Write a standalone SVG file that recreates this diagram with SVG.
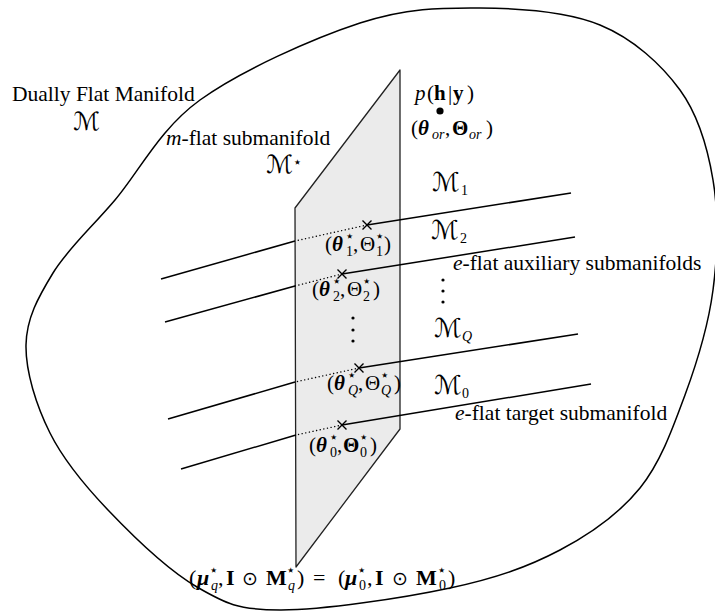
<svg xmlns="http://www.w3.org/2000/svg" width="715" height="611" viewBox="0 0 715 611">
<style>
.tx{font-family:"Liberation Serif",serif;font-size:21.5px;fill:#000}
.m{font-family:"Liberation Serif","DejaVu Serif",serif;font-size:21px;fill:#000}
.big{font-size:22px}
.cal{font-family:"DejaVu Serif","DejaVu Sans",serif;font-size:26px;fill:#000}
.cs{font-size:25px}
.bi{font-weight:bold;font-style:italic}
.b{font-weight:bold}
.it{font-style:italic}
.sub{font-family:"Liberation Serif",serif;font-size:14px}
.st{font-family:"DejaVu Sans",sans-serif;font-size:15px}
.op{font-family:"DejaVu Sans",sans-serif;font-size:19px}
.curve{fill:none;stroke:#000;stroke-width:1.5}
.sol{fill:none;stroke:#000;stroke-width:1.5}
.dot{fill:none;stroke:#000;stroke-width:1.4;stroke-dasharray:0.1 3.6;stroke-linecap:round}
.cross{fill:none;stroke:#000;stroke-width:1.4}
</style>
<g id="manifold">
<path class="curve" d="M360,23 C406.7,7.7 440,7.7 480,8 C520,8.3 566.7,11.3 600,25 C633.3,38.7 661.2,64.2 680,90 C698.8,115.8 707.5,146.7 713,180 C718.5,213.3 717.7,254.2 713,290 C708.3,325.8 697.2,362 685,395 C672.8,428 660.8,462.2 640,488 C619.2,513.8 591.7,533.3 560,550 C528.3,566.7 496.7,578 450,588 C403.3,598 322.2,610.2 280,610 C237.8,609.8 225.7,603.7 197,587 C168.3,570.3 132.5,535.7 108,510 C83.5,484.3 63.7,460.5 50,433 C36.3,405.5 25.5,371.7 26,345 C26.5,318.3 38.2,297.2 53,273 C67.8,248.8 90.5,228.8 115,200 C139.5,171.2 159.2,129.5 200,100 C240.8,70.5 313.3,38.3 360,23 Z"/>
<text class="tx" x="12" y="101">Dually Flat Manifold</text>
<text class="cal cs" x="73" y="130">ℳ</text>
</g>
<g id="m-flat-submanifold">
<polygon points="400,70 400,429 296,567 295,208" fill="#ebebeb" stroke="#222" stroke-width="1.3" stroke-linejoin="round"/>
<text class="tx" x="166" y="145"><tspan class="it">m</tspan>-flat submanifold</text>
<text class="cal cs" x="266" y="173">ℳ<tspan class="st" dy="-6">⋆</tspan></text>
<g id="plane-dots" fill="#000">
<circle cx="353" cy="318" r="1.6"/><circle cx="353" cy="330" r="1.6"/><circle cx="353" cy="341" r="1.6"/>
</g>
</g>
<g id="submanifolds">
<path class="sol" d="M571,193 L367,225"/><path class="dot" d="M367,225 L295,241"/><path class="sol" d="M295,241 L161,279"/>
<path class="sol" d="M575,237 L342,274"/><path class="dot" d="M342,274 L295,286"/><path class="sol" d="M295,286 L165,322"/>
<path class="sol" d="M578,334 L359,368"/><path class="dot" d="M359,368 L295,382"/><path class="sol" d="M295,382 L168,419"/>
<path class="sol" d="M591,384 L342,425"/><path class="dot" d="M342,425 L296,435"/><path class="sol" d="M296,435 L181,469"/>
<path class="cross" d="M362.5,220.5 L371.5,229.5 M371.5,220.5 L362.5,229.5 M337.5,269.5 L346.5,278.5 M346.5,269.5 L337.5,278.5 M354.5,363.5 L363.5,372.5 M363.5,363.5 L354.5,372.5 M337.5,420.5 L346.5,429.5 M346.5,420.5 L337.5,429.5"/>
</g>
<g id="posterior">
<circle cx="440" cy="111" r="3.6" fill="#000"/>
<text class="m"><tspan class="it" x="415" y="100">p</tspan><tspan x="427" y="100">(</tspan><tspan class="b" x="434" y="100">h</tspan><tspan x="448" y="100">|</tspan><tspan class="b" x="453" y="100">y</tspan><tspan x="467" y="100">)</tspan></text>
<text class="m"><tspan x="411" y="135">(</tspan><tspan class="bi" x="418" y="135">θ</tspan><tspan class="sub it" x="432" y="139">or</tspan><tspan x="445" y="135">,</tspan><tspan class="b" x="452" y="135">Θ</tspan><tspan class="sub it" x="469" y="139">or</tspan><tspan x="486" y="135">)</tspan></text>
</g>
<g id="labels-M">
<text class="cal" x="432" y="191">ℳ</text><text class="sub" x="461" y="195">1</text>
<text class="cal" x="431" y="239">ℳ</text><text class="sub" x="460" y="243">2</text>
<text class="tx" x="453" y="270"><tspan class="it">e</tspan>-flat auxiliary submanifolds</text>
<g fill="#000"><circle cx="443" cy="280" r="1.6"/><circle cx="443" cy="291" r="1.6"/><circle cx="443" cy="302" r="1.6"/></g>
<text class="cal" x="434" y="337">ℳ</text><text class="sub it" x="462" y="341">Q</text>
<text class="cal" x="434" y="394">ℳ</text><text class="sub" x="462" y="398">0</text>
<text class="tx" x="455" y="420"><tspan class="it">e</tspan>-flat target submanifold</text>
</g>
<g id="points">
<text class="m"><tspan x="325" y="251">(</tspan><tspan class="bi" x="332" y="251">θ</tspan><tspan x="353" y="251">,</tspan><tspan x="360" y="251">Θ</tspan><tspan x="384" y="251">)</tspan></text>
<text class="st" x="345" y="241">⋆</text><text class="sub" x="346" y="256">1</text><text class="st" x="375" y="241">⋆</text><text class="sub" x="376" y="256">1</text>
<text class="m"><tspan x="312" y="296">(</tspan><tspan class="bi" x="319" y="296">θ</tspan><tspan x="340" y="296">,</tspan><tspan x="347" y="296">Θ</tspan><tspan x="373" y="296">)</tspan></text>
<text class="st" x="332" y="286">⋆</text><text class="sub" x="333" y="301">2</text><text class="st" x="362" y="286">⋆</text><text class="sub" x="363" y="301">2</text>
<text class="m"><tspan x="327" y="390">(</tspan><tspan class="bi" x="334" y="390">θ</tspan><tspan x="358" y="390">,</tspan><tspan x="365" y="390">Θ</tspan><tspan x="394" y="390">)</tspan></text>
<text class="st" x="347" y="380">⋆</text><text class="sub it" x="348" y="395">Q</text><text class="st" x="380" y="380">⋆</text><text class="sub it" x="381" y="395">Q</text>
<text class="m"><tspan x="309" y="452">(</tspan><tspan class="bi" x="316" y="452">θ</tspan><tspan x="337" y="452">,</tspan><tspan class="b" x="343" y="452">Θ</tspan><tspan x="370" y="452">)</tspan></text>
<text class="st" x="329" y="442">⋆</text><text class="sub" x="330" y="457">0</text><text class="st" x="359" y="442">⋆</text><text class="sub" x="360" y="457">0</text>
</g>
<g id="equality">
<text class="m big"><tspan x="189" y="585">(</tspan><tspan class="bi" x="197" y="585">μ</tspan><tspan x="218" y="585">,</tspan><tspan class="b" x="226" y="585">I</tspan><tspan class="op" x="242" y="585">⊙</tspan><tspan class="b" x="266" y="585">M</tspan><tspan x="297" y="585">)</tspan><tspan x="313" y="585">=</tspan><tspan x="338" y="585">(</tspan><tspan class="bi" x="345" y="585">μ</tspan><tspan x="367" y="585">,</tspan><tspan class="b" x="375" y="585">I</tspan><tspan class="op" x="392" y="585">⊙</tspan><tspan class="b" x="416" y="585">M</tspan><tspan x="448" y="585">)</tspan></text>
<text class="st" x="209" y="575">⋆</text><text class="sub it" x="211" y="590">q</text>
<text class="st" x="286" y="575">⋆</text><text class="sub it" x="288" y="590">q</text>
<text class="st" x="357" y="575">⋆</text><text class="sub" x="359" y="590">0</text>
<text class="st" x="437" y="575">⋆</text><text class="sub" x="439" y="590">0</text>
</g>
</svg>
